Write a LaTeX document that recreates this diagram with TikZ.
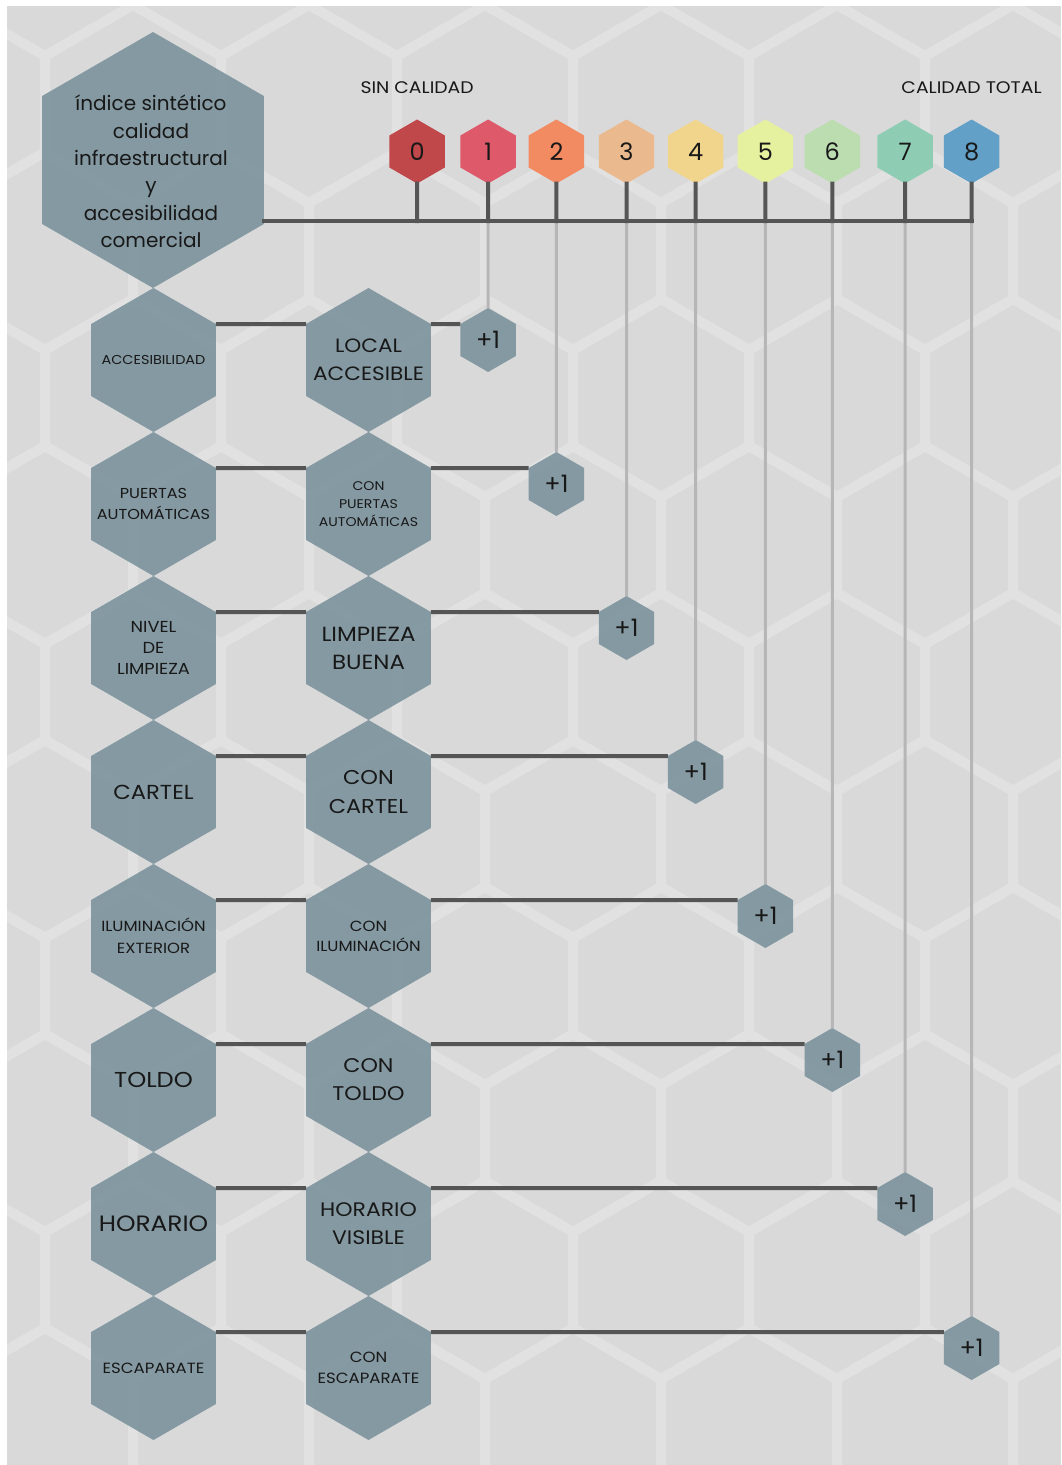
\documentclass[tikz,border=0pt]{standalone}
\usepackage{fontspec}
\setmainfont{Poppins}
\newfontfamily\mayus{Poppins}[FakeStretch=1.12]
\usetikzlibrary{shapes.geometric, positioning}
\definecolor{icfondo}{RGB}{217, 217, 217}
\definecolor{icpanal}{RGB}{225, 225, 225}
\definecolor{ichex}{RGB}{118, 142, 153}
\definecolor{iclinea}{RGB}{85, 85, 85}
\definecolor{icguia}{RGB}{182, 182, 182}
\definecolor{ictexto}{RGB}{24, 24, 24}
\definecolor{icq0}{RGB}{192, 71, 74}
\definecolor{icq1}{RGB}{222, 90, 106}
\definecolor{icq2}{RGB}{242, 138, 98}
\definecolor{icq3}{RGB}{235, 185, 142}
\definecolor{icq4}{RGB}{241, 213, 140}
\definecolor{icq5}{RGB}{230, 241, 160}
\definecolor{icq6}{RGB}{187, 221, 176}
\definecolor{icq7}{RGB}{142, 205, 180}
\definecolor{icq8}{RGB}{99, 160, 200}
\newcommand{\fs}[2]{\fontsize{#1}{#2}\selectfont}
\newcommand{\mfs}[2]{\mayus\fontsize{#1}{#2}\selectfont}

\begin{document}
\begin{tikzpicture}[
    x=1pt, y=-1pt,
    hexa/.style={regular polygon, regular polygon sides=6, shape border rotate=30, inner sep=0pt, outer sep=0pt, fill=ichex, fill opacity=0.85, text opacity=1, text=ictexto, align=center},
    factor/.style={hexa, minimum size=144pt, inner sep=-14pt},
    indice/.style={hexa, minimum size=256pt},
    punto/.style={hexa, minimum size=64pt, font=\fs{24}{24}},
    nivel/.style={regular polygon, regular polygon sides=6, shape border rotate=30, inner sep=0pt, outer sep=0pt, minimum size=64pt, font=\fs{24}{24}, text=ictexto},
    extremo/.style={font=\mfs{16.8}{17}, text=ictexto, inner sep=0pt},
    eje/.style={iclinea, line width=4pt, line cap=rect},
    enlace/.style={iclinea, line width=4pt},
    guia/.style={icguia, line width=3pt},
    panal/.style={icpanal, line width=10pt, line join=miter}
]
\useasboundingbox (0,0) rectangle (1061,1465);
\fill[white] (0,0) rectangle (1061,1465);

% === Fondo de panal ===
\begin{scope}
\clip (7,6) rectangle (1061,1465);
\fill[icfondo] (7,6) rectangle (1061,1465);
\foreach \fila in {0,...,10} {
  \pgfmathsetmacro{\cy}{104+147*\fila}
  \pgfmathsetmacro{\cx}{309+88*mod(\fila,2)}
  \foreach \col in {-2,...,4} {
    \draw[panal] ({\cx+176*\col}, \cy) +(0,-99) -- +(88,-48) -- +(88,48) -- +(0,99) -- +(-88,48) -- +(-88,-48) -- cycle;
  }
}
\end{scope}

% === Indice ===
\node[indice] (indice) at (153,160) {};
\node[font=\fs{20}{27.4}, text=ictexto, align=center, inner sep=0pt] (indice-texto) at (151,171.5)
    {índice sintético\\calidad\\infraestructural\\y\\accesibilidad\\comercial};

% === Escala de calidad ===
\node[nivel, fill=icq0] (n0) at (417.1,151.5) {0};
\node[nivel, fill=icq1] (n1) at (488.1,151.5) {1};
\node[nivel, fill=icq2] (n2) at (556.4,151.5) {2};
\node[nivel, fill=icq3] (n3) at (626.5,151.5) {3};
\node[nivel, fill=icq4] (n4) at (695.7,151.5) {4};
\node[nivel, fill=icq5] (n5) at (765.4,151.5) {5};
\node[nivel, fill=icq6] (n6) at (832.3,151.5) {6};
\node[nivel, fill=icq7] (n7) at (905.1,151.5) {7};
\node[nivel, fill=icq8] (n8) at (971.6,151.5) {8};

\node[extremo] (sin) at (417.1,88) {SIN CALIDAD};
\node[extremo] (total) at (971.6,88) {CALIDAD TOTAL};

\coordinate (barra) at (0,221);

% === Factores ===
\node[factor, font=\mfs{12.9}{13}] (f1) at (153.5,360) {ACCESIBILIDAD};
\node[factor, font=\mfs{19.3}{28}] (v1) at (368.5,360) {LOCAL\\ACCESIBLE};
\node[punto] (p1) at (488.1,340) {+1};

\node[factor, font=\mfs{14.4}{21}] (f2) at (153.5,504) {PUERTAS\\AUTOMÁTICAS};
\node[factor, font=\mfs{12.6}{18}] (v2) at (368.5,504) {CON\\PUERTAS\\AUTOMÁTICAS};
\node[punto] (p2) at (556.4,484) {+1};

\node[factor, font=\mfs{15.9}{21}] (f3) at (153.5,648) {NIVEL\\DE\\LIMPIEZA};
\node[factor, font=\mfs{20.5}{28}] (v3) at (368.5,648) {LIMPIEZA\\BUENA};
\node[punto] (p3) at (626.5,628) {+1};

\node[factor, font=\mfs{20.3}{20}] (f4) at (153.5,792) {CARTEL};
\node[factor, font=\mfs{20}{29}] (v4) at (368.5,792) {CON\\CARTEL};
\node[punto] (p4) at (695.7,772) {+1};

\node[factor, font=\mfs{14.7}{22}] (f5) at (153.5,936) {ILUMINACIÓN\\EXTERIOR};
\node[factor, font=\mfs{14.7}{20}] (v5) at (368.5,936) {CON\\ILUMINACIÓN};
\node[punto] (p5) at (765.4,916) {+1};

\node[factor, font=\mfs{21.6}{22}] (f6) at (153.5,1080) {TOLDO};
\node[factor, font=\mfs{19.8}{28}] (v6) at (368.5,1080) {CON\\TOLDO};
\node[punto] (p6) at (832.3,1060) {+1};

\node[factor, font=\mfs{22.2}{22}] (f7) at (153.5,1224) {HORARIO};
\node[factor, font=\mfs{19.6}{28}] (v7) at (368.5,1224) {HORARIO\\VISIBLE};
\node[punto] (p7) at (905.1,1204) {+1};

\node[factor, font=\mfs{14.8}{14}] (f8) at (153.5,1368) {ESCAPARATE};
\node[factor, font=\mfs{14.8}{21}] (v8) at (368.5,1368) {CON\\ESCAPARATE};
\node[punto] (p8) at (971.6,1348) {+1};

% === Guias hacia cada +1 ===
\draw[guia] (n1 |- barra) -- (p1);
\draw[guia] (n2 |- barra) -- (p2);
\draw[guia] (n3 |- barra) -- (p3);
\draw[guia] (n4 |- barra) -- (p4);
\draw[guia] (n5 |- barra) -- (p5);
\draw[guia] (n6 |- barra) -- (p6);
\draw[guia] (n7 |- barra) -- (p7);
\draw[guia] (n8 |- barra) -- (p8);

% === Eje principal ===
\draw[eje] (indice.east |- barra) -- (n8 |- barra);
\draw[eje] (n0) -- (n0 |- barra);
\draw[eje] (n1) -- (n1 |- barra);
\draw[eje] (n2) -- (n2 |- barra);
\draw[eje] (n3) -- (n3 |- barra);
\draw[eje] (n4) -- (n4 |- barra);
\draw[eje] (n5) -- (n5 |- barra);
\draw[eje] (n6) -- (n6 |- barra);
\draw[eje] (n7) -- (n7 |- barra);
\draw[eje] (n8) -- (n8 |- barra);

% === Enlaces factor -> valor -> +1 ===
\draw[enlace] (f1.30) -- (v1.150);
\draw[enlace] (v1.30) -- (p1.150);
\draw[enlace] (f2.30) -- (v2.150);
\draw[enlace] (v2.30) -- (p2.150);
\draw[enlace] (f3.30) -- (v3.150);
\draw[enlace] (v3.30) -- (p3.150);
\draw[enlace] (f4.30) -- (v4.150);
\draw[enlace] (v4.30) -- (p4.150);
\draw[enlace] (f5.30) -- (v5.150);
\draw[enlace] (v5.30) -- (p5.150);
\draw[enlace] (f6.30) -- (v6.150);
\draw[enlace] (v6.30) -- (p6.150);
\draw[enlace] (f7.30) -- (v7.150);
\draw[enlace] (v7.30) -- (p7.150);
\draw[enlace] (f8.30) -- (v8.150);
\draw[enlace] (v8.30) -- (p8.150);

\end{tikzpicture}
\end{document}
